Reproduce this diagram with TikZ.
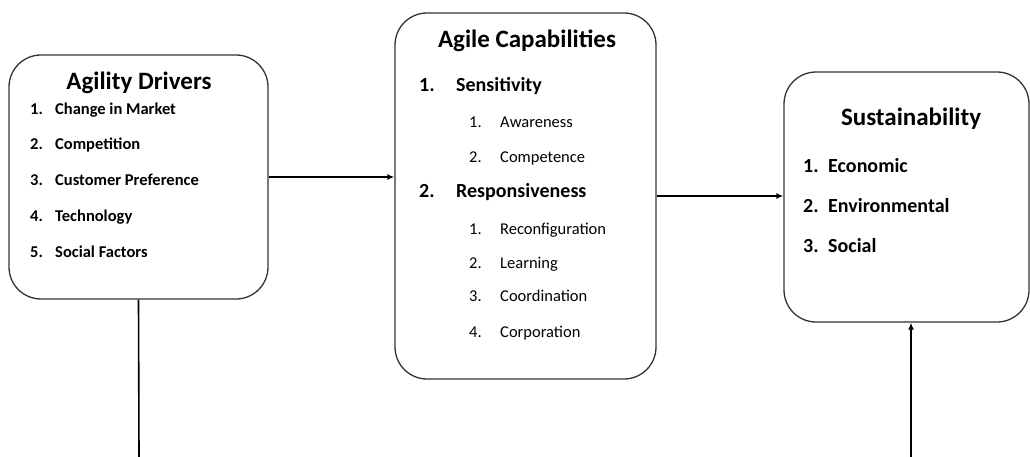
\documentclass[tikz,border=0pt]{standalone}
\usepackage{fontspec}
\setmainfont{Carlito}
\usetikzlibrary{arrows.meta}

\begin{document}
\begin{tikzpicture}[x=1pt,y=-1pt]
      \tikzstyle{every node}+=[inner sep=0pt]
      \tikzstyle{block}=[draw=black!80, line width=1.3pt, rounded corners=32pt]
      \tikzstyle{title}=[yshift=-3pt, font=\fontsize{25}{27}\selectfont\bfseries]
      \tikzstyle{item}=[anchor=west, yshift=-3pt, text height=0.7em, text depth=0.2em, font=\fontsize{16.5}{18}\selectfont\bfseries]
      \tikzstyle{head}=[item, font=\fontsize{20}{22}\selectfont\bfseries]
      \tikzstyle{sub}=[anchor=west, yshift=-3pt, text height=0.7em, text depth=0.2em, font=\fontsize{16.5}{18}\selectfont]
      \tikzstyle{link}=[black, line width=1.6pt]
      \useasboundingbox (0,0) rectangle (1030,457);
      % boxes
      \node [block, minimum width=259pt, minimum height=244pt] (drivers) at (138.5,177) {};
      \node [block, minimum width=261pt, minimum height=366pt] (capab) at (525.5,196) {};
      \node [block, minimum width=245pt, minimum height=250pt] (sustain) at (906.5,197) {};
      % agility drivers
      \node [title] (tdrv) at (139,80) {Agility Drivers};
      \node [item] (d1) at (30,109) {1.};
      \node [item] (d1t) at (55,109) {Change in Market};
      \node [item] (d2) at (30,144) {2.};
      \node [item] (d2t) at (55,144) {Competition};
      \node [item] (d3) at (30,180) {3.};
      \node [item] (d3t) at (55,180) {Customer Preference};
      \node [item] (d4) at (30,216) {4.};
      \node [item] (d4t) at (55,216) {Technology};
      \node [item] (d5) at (30,252) {5.};
      \node [item] (d5t) at (55,252) {Social Factors};
      % agile capabilities
      \node [title] (tcap) at (527,38) {Agile Capabilities};
      \node [head] (c1) at (419,86) {1.};
      \node [head] (c1t) at (456,86) {Sensitivity};
      \node [sub] (c11) at (469,122) {1.};
      \node [sub] (c11t) at (500,122) {Awareness};
      \node [sub] (c12) at (469,157) {2.};
      \node [sub] (c12t) at (500,157) {Competence};
      \node [head] (c2) at (419,192) {2.};
      \node [head] (c2t) at (456,192) {Responsiveness};
      \node [sub] (c21) at (469,229) {1.};
      \node [sub] (c21t) at (500,229) {Reconfiguration};
      \node [sub] (c22) at (469,263) {2.};
      \node [sub] (c22t) at (500,263) {Learning};
      \node [sub] (c23) at (469,296) {3.};
      \node [sub] (c23t) at (500,296) {Coordination};
      \node [sub] (c24) at (469,332) {4.};
      \node [sub] (c24t) at (500,332) {Corporation};
      % sustainability
      \node [title] (tsus) at (911,116) {Sustainability};
      \node [head] (s1) at (803,167) {1.};
      \node [head] (s1t) at (828,167) {Economic};
      \node [head] (s2) at (803,207) {2.};
      \node [head] (s2t) at (828,207) {Environmental};
      \node [head] (s3) at (803,247) {3.};
      \node [head] (s3t) at (828,247) {Social};
      % connectors
      \coordinate (lbot) at (139,457);
      \coordinate (rbot) at (911,457);
      \draw [link, -{Latex[length=7pt,width=6pt]}] (drivers.east) -- (drivers.east -| capab.west);
      \draw [link, -{Latex[length=7pt,width=6pt]}] (capab.east) -- (capab.east -| sustain.west);
      \draw [link] (drivers.south) -- (lbot);
      \draw [link, -{Latex[length=7pt,width=6pt]}] (rbot) -- (rbot |- sustain.south);
\end{tikzpicture}
\end{document}
